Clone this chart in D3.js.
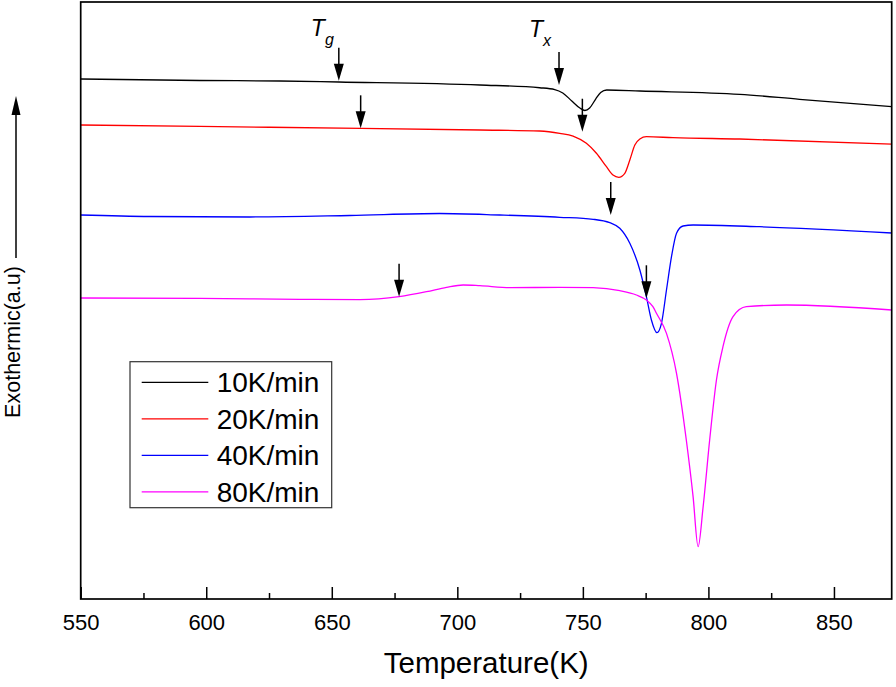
<!DOCTYPE html>
<html><head><meta charset="utf-8">
<script src="https://cdn.jsdelivr.net/npm/d3@7"></script>
<style>body{margin:0;background:#fff}svg{display:block}text{font-family:Arial,"Liberation Sans",sans-serif;fill:#000}</style>
</head><body><svg id="c" width="896" height="687"></svg>
<script>
// ---- data (Temperature in K, heat flow in a.u.) ----
const seriesNames = ["10K/min", "20K/min", "40K/min", "80K/min"];
const seriesColors = ["#000000", "#ff0000", "#0000ff", "#ff00ff"];

const temp10 = [550, 597.5, 629.3, 652.8, 709.0, 732.8, 738.8, 742.0, 745.6, 748.8, 750.8, 752.7, 755.1, 757.1, 759.5, 772.7, 812.5, 836.3, 873];
const heat10 = [87.10, 86.85, 86.77, 86.60, 86.10, 85.64, 85.34, 84.76, 83.42, 82.24, 81.83, 82.24, 83.75, 84.84, 85.26, 85.09, 84.54, 83.70, 82.46];

const temp20 = [550, 597.5, 661.6, 709.0, 732.8, 740.8, 746.1, 751.4, 755.4, 759.4, 762.0, 764.3, 766.7, 768.7, 770.7, 772.7, 775.3, 785.9, 812.5, 873];
const heat20 = [79.40, 79.15, 78.84, 78.56, 78.39, 78.01, 77.55, 76.33, 74.66, 72.41, 71.02, 70.64, 71.31, 73.53, 76.05, 77.05, 77.44, 77.27, 77.05, 76.21];

const temp40 = [550, 577.6, 617.4, 657.2, 693.0, 716.9, 740.8, 754.1, 760.7, 764.7, 768.7, 772.7, 775.3, 777.3, 779.5, 781.3, 783.3, 785.3, 787.3, 789.9, 793.9, 820.4, 873];
const heat40 = [64.32, 64.07, 63.99, 64.24, 64.57, 64.32, 63.94, 63.60, 63.03, 62.09, 59.58, 55.11, 50.64, 46.73, 44.61, 46.18, 51.76, 57.34, 61.26, 62.48, 62.65, 62.36, 61.31];

const temp80 = [550, 597.5, 637.3, 661.2, 676.8, 687.7, 695.7, 702.3, 709.0, 720.9, 740.8, 754.1, 764.7, 771.3, 775.3, 777.9, 779.3, 783.3, 787.3, 791.2, 793.9, 795.9, 797.9, 800.5, 803.2, 805.8, 809.8, 815.1, 831.1, 873];
const heat80 = [50.42, 50.34, 50.20, 50.15, 50.64, 51.47, 52.21, 52.60, 52.48, 52.14, 52.21, 52.14, 51.64, 50.92, 50.08, 48.96, 47.86, 44.50, 37.81, 26.63, 17.14, 8.76, 15.46, 26.63, 36.68, 42.26, 47.29, 48.96, 49.25, 48.41];

const xMajorTicks = [550, 600, 650, 700, 750, 800, 850];
const xMinorTicks = [575, 625, 675, 725, 775, 825];

// Tg / Tx marker arrows
const arrowTemps = [652.8, 740.5, 661.5, 749.8, 761.1, 676.8, 775.3];
const arrowTips  = [86.82, 86.10, 78.84, 78.27, 64.32, 50.64, 50.37];

const xTitle = "Temperature(K)";
const yTitle = "Exothermic(a.u)";

// ---- drawing ----
const svg = d3.select("#c");
const P = {l: 80.7, r: 891.7, t: 2, b: 599};
const x = d3.scaleLinear().domain([550, 873]).range([P.l, P.r]);
const y = d3.scaleLinear().domain([0, 100]).range([P.b, P.t]);

svg.append("defs").append("clipPath").attr("id", "clip")
  .append("rect").attr("x", P.l).attr("y", P.t).attr("width", P.r - P.l).attr("height", P.b - P.t);

const temps = [temp10, temp20, temp40, temp80];
const heats = [heat10, heat20, heat40, heat80];
const line = d3.line().x(d => x(d[0])).y(d => y(d[1])).curve(d3.curveMonotoneX);

const g = svg.append("g").attr("clip-path", "url(#clip)");
seriesNames.forEach((name, i) => {
  const pts = temps[i].map((t, j) => [t, heats[i][j]]);
  g.append("path").datum(pts).attr("d", line)
    .attr("fill", "none").attr("stroke", seriesColors[i]).attr("stroke-width", 1.3);
});

// axes
const ax = svg.append("g").attr("transform", `translate(0,${P.b})`)
  .call(d3.axisBottom(x).tickValues(xMajorTicks).tickSizeInner(-12).tickSizeOuter(0).tickPadding(15).tickFormat(d3.format("d")));
ax.select(".domain").remove();
ax.selectAll(".tick line").attr("stroke", "#000").attr("stroke-width", 1.5);
ax.selectAll(".tick text").attr("font-size", 22).attr("font-family", "Arial, 'Liberation Sans', sans-serif");

const axm = svg.append("g").attr("transform", `translate(0,${P.b})`)
  .call(d3.axisBottom(x).tickValues(xMinorTicks).tickSizeInner(-6).tickSizeOuter(0).tickFormat(""));
axm.select(".domain").remove();
axm.selectAll(".tick line").attr("stroke", "#000").attr("stroke-width", 1.5);

// frame
svg.append("rect").attr("x", P.l).attr("y", P.t).attr("width", P.r - P.l).attr("height", P.b - P.t)
  .attr("fill", "none").attr("stroke", "#000").attr("stroke-width", 1.7);

// arrows
const arrowLen = 33, headLen = 17, headW = 5;
arrowTemps.forEach((t, i) => {
  const ax0 = x(t), tip = y(arrowTips[i]);
  svg.append("line").attr("x1", ax0).attr("x2", ax0).attr("y1", tip - arrowLen).attr("y2", tip - headLen + 1)
    .attr("stroke", "#000").attr("stroke-width", 1.5);
  svg.append("path").attr("d", `M${ax0},${tip} L${ax0 - headW},${tip - headLen} L${ax0 + headW},${tip - headLen} Z`).attr("fill", "#000");
});

// Tg / Tx labels
function tLabel(xpos, base, sub) {
  const t = svg.append("text").attr("x", xpos).attr("y", base).attr("font-size", 23).attr("font-style", "italic");
  t.append("tspan").text("T");
  t.append("tspan").text(sub).attr("font-size", 16).attr("dx", 0).attr("dy", 9);
}
tLabel(x(arrowTemps[0]) - 28, 36, "g");
tLabel(x(arrowTemps[1]) - 30, 37, "x");

// axis titles
svg.append("text").attr("x", (P.l + P.r) / 2).attr("y", 673).attr("text-anchor", "middle")
  .attr("font-size", 29.5).text(xTitle);
svg.append("text").attr("transform", "translate(20,342) rotate(-90)").attr("text-anchor", "middle")
  .attr("font-size", 21.5).text(yTitle);
// y arrow
svg.append("line").attr("x1", 16).attr("x2", 16).attr("y1", 258).attr("y2", 112).attr("stroke", "#000").attr("stroke-width", 1.5);
svg.append("path").attr("d", "M16,96 L11.5,115 L20.5,115 Z").attr("fill", "#000");

// legend
const lg = svg.append("g");
lg.append("rect").attr("x", 130).attr("y", 361.7).attr("width", 201.7).attr("height", 146)
  .attr("fill", "#fff").attr("stroke", "#333").attr("stroke-width", 1.2);
seriesNames.forEach((name, i) => {
  const ry = 382.3 + i * 36.5;
  lg.append("line").attr("x1", 141.7).attr("x2", 208.3).attr("y1", ry).attr("y2", ry)
    .attr("stroke", seriesColors[i]).attr("stroke-width", 1.3);
  lg.append("text").attr("x", 216.7).attr("y", ry + 10).attr("font-size", 28).text(name);
});
</script></body></html>
